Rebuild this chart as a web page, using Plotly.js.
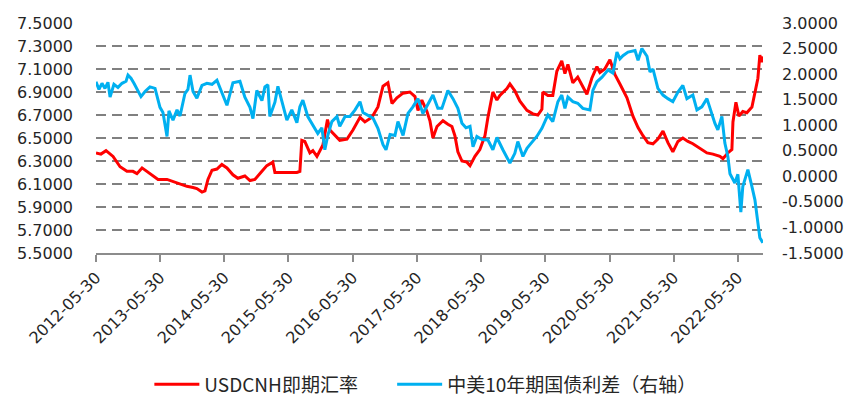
<!DOCTYPE html>
<html>
<head>
<meta charset="utf-8">
<script src="https://cdn.plot.ly/plotly-3.0.1.min.js"></script>
<style>
  html, body { margin: 0; padding: 0; background: #fff; }
  #chart { width: 865px; height: 417px; }
</style>
</head>
<body>
<div id="chart"></div>
<script>
// USDCNH spot (left axis)
var cnhDates = [
  '2012-05-30','2012-06-27','2012-07-26','2012-09-04','2012-10-14','2012-11-22','2012-12-26',
  '2013-01-18','2013-02-16','2013-04-02','2013-05-18','2013-07-08','2013-09-03','2013-10-29',
  '2013-12-03','2013-12-25','2014-01-23','2014-02-09','2014-02-26','2014-03-21','2014-04-18',
  '2014-05-16','2014-06-14','2014-07-18','2014-08-15','2014-09-24','2014-10-23','2014-11-20',
  '2014-12-30','2015-01-27','2015-03-02','2015-03-14','2015-04-28','2015-06-07','2015-07-17',
  '2015-08-03','2015-08-14','2015-08-31','2015-09-29','2015-10-16','2015-11-08','2015-12-12',
  '2016-01-07','2016-01-21','2016-02-07','2016-03-17','2016-04-27','2016-05-31','2016-07-10',
  '2016-08-07','2016-09-16','2016-10-20','2016-11-18','2016-12-16','2017-01-08','2017-02-05',
  '2017-03-12','2017-04-20','2017-05-19','2017-06-05','2017-06-27','2017-07-26','2017-08-12',
  '2017-08-29','2017-09-21','2017-10-25','2017-11-22','2017-12-15','2018-01-01','2018-01-18',
  '2018-02-10','2018-03-10','2018-03-28','2018-04-25','2018-05-23','2018-06-21','2018-07-08',
  '2018-08-05','2018-08-28','2018-09-14','2018-10-24','2018-11-10','2018-12-08','2019-01-06',
  '2019-02-15','2019-03-21','2019-04-18','2019-05-11','2019-05-16','2019-06-14','2019-07-12',
  '2019-08-04','2019-09-01','2019-09-19','2019-10-06','2019-11-03','2019-12-01','2019-12-24',
  '2020-01-22','2020-02-19','2020-03-19','2020-04-05','2020-05-03','2020-06-01','2020-06-30',
  '2020-07-28','2020-09-06','2020-10-10','2020-11-08','2020-12-06','2021-01-03','2021-02-01',
  '2021-03-01','2021-03-30','2021-04-27','2021-05-25','2021-06-23','2021-07-21','2021-08-19',
  '2021-09-16','2021-10-26','2021-12-05','2022-01-08','2022-02-17','2022-03-06','2022-04-03',
  '2022-04-26','2022-05-02','2022-05-19','2022-06-05','2022-06-27','2022-07-20','2022-08-18',
  '2022-09-04','2022-09-21','2022-10-02','2022-10-12','2022-10-19'
];
var cnhValues = [
  6.37,6.36,6.39,6.34,6.25,6.21,6.21,
  6.19,6.24,6.19,6.14,6.14,6.11,6.08,
  6.07,6.06,6.03,6.04,6.14,6.22,6.23,
  6.27,6.24,6.18,6.15,6.17,6.13,6.14,
  6.21,6.26,6.29,6.20,6.20,6.20,6.20,
  6.21,6.48,6.47,6.37,6.39,6.34,6.44,
  6.66,6.57,6.54,6.48,6.49,6.57,6.68,
  6.64,6.68,6.77,6.95,6.98,6.80,6.85,
  6.89,6.90,6.86,6.74,6.83,6.73,6.65,
  6.50,6.60,6.65,6.62,6.60,6.52,6.38,
  6.30,6.29,6.26,6.34,6.40,6.52,6.68,
  6.90,6.83,6.87,6.93,6.97,6.91,6.82,
  6.74,6.71,6.70,6.75,6.90,6.87,6.87,
  7.08,7.17,7.06,7.14,6.98,7.03,6.96,
  6.88,7.02,7.12,7.07,7.10,7.18,7.05,
  6.97,6.85,6.69,6.59,6.52,6.46,6.45,
  6.49,6.56,6.46,6.38,6.47,6.50,6.47,
  6.45,6.41,6.37,6.36,6.34,6.32,6.37,
  6.40,6.64,6.81,6.69,6.73,6.72,6.77,
  6.91,7.02,7.22,7.16,7.21
];

// China-US 10Y yield spread (right axis)
var spreadDates = [
  '2012-05-30','2012-06-16','2012-07-03','2012-07-20','2012-08-06','2012-08-18','2012-09-09',
  '2012-10-02','2012-10-25','2012-11-17','2012-11-28','2012-12-15','2013-01-01','2013-01-18',
  '2013-02-10','2013-03-05','2013-04-02','2013-05-01','2013-05-12','2013-05-29','2013-06-15',
  '2013-07-08','2013-07-19','2013-08-11','2013-09-03','2013-09-20','2013-10-18','2013-11-04',
  '2013-11-16','2013-12-03','2013-12-25','2014-01-23','2014-02-20','2014-03-21','2014-04-18',
  '2014-05-16','2014-06-14','2014-07-18','2014-08-27','2014-09-24','2014-10-23','2014-11-09',
  '2014-12-01','2014-12-30','2015-01-16','2015-02-02','2015-02-13','2015-03-14','2015-03-31',
  '2015-04-28','2015-05-21','2015-06-18','2015-07-17','2015-08-03','2015-08-20','2015-09-17',
  '2015-10-16','2015-11-13','2015-12-06','2015-12-23','2016-01-09','2016-02-01','2016-03-01',
  '2016-03-17','2016-04-16','2016-05-14','2016-06-12','2016-07-10','2016-07-27','2016-08-24',
  '2016-09-22','2016-10-20','2016-11-18','2016-12-05','2016-12-28','2017-01-25','2017-02-11',
  '2017-03-12','2017-04-09','2017-05-07','2017-06-05','2017-07-03','2017-08-01','2017-08-29',
  '2017-09-26','2017-10-19','2017-11-22','2017-12-21','2018-01-18','2018-02-10','2018-03-05',
  '2018-03-28','2018-04-14','2018-05-06','2018-06-04','2018-07-08','2018-08-05','2018-08-28',
  '2018-10-01','2018-11-10','2018-12-08','2018-12-25','2019-01-23','2019-02-15','2019-03-04',
  '2019-04-12','2019-05-11','2019-06-14','2019-07-12','2019-08-10','2019-09-01','2019-09-19',
  '2019-10-06','2019-11-03','2019-12-01','2019-12-30','2020-02-08','2020-02-25','2020-03-19',
  '2020-04-17','2020-05-21','2020-06-18','2020-07-11','2020-07-28','2020-08-14','2020-09-12',
  '2020-10-22','2020-11-08','2020-11-30','2020-12-29','2021-01-15','2021-02-01','2021-03-01',
  '2021-03-30','2021-04-27','2021-05-25','2021-06-23','2021-07-21','2021-08-13','2021-09-16',
  '2021-10-09','2021-11-06','2021-12-05','2021-12-22','2022-01-19','2022-02-05','2022-02-28',
  '2022-03-17','2022-04-03','2022-04-15','2022-05-13','2022-05-30','2022-06-16','2022-06-27',
  '2022-07-26','2022-08-18','2022-09-04','2022-09-21','2022-10-02','2022-10-19'
];
var spreadValues = [
  1.85,1.70,1.82,1.72,1.84,1.55,1.80,
  1.74,1.82,1.86,1.98,1.92,1.82,1.72,
  1.56,1.66,1.75,1.72,1.58,1.35,1.25,
  0.78,1.28,1.10,1.30,1.18,1.62,1.70,
  1.98,1.66,1.53,1.78,1.82,1.80,1.88,
  1.65,1.39,1.83,1.86,1.55,1.35,1.13,
  1.68,1.48,1.75,1.79,1.17,1.45,1.76,
  1.40,1.10,1.30,1.05,1.36,1.49,1.17,
  1.00,0.84,0.95,0.52,0.80,1.07,1.17,
  0.98,1.17,1.17,1.30,1.46,1.25,1.20,
  1.14,0.94,0.62,0.52,0.82,0.80,1.07,
  0.80,1.23,1.36,1.52,1.23,1.40,1.59,
  1.33,1.33,1.68,1.52,1.33,1.04,0.95,
  0.98,0.58,0.78,0.72,0.71,0.52,0.76,
  0.52,0.26,0.45,0.68,0.39,0.55,0.62,
  0.78,0.94,1.20,1.07,1.46,1.59,1.33,
  1.55,1.46,1.43,1.33,1.30,1.68,1.85,
  1.94,2.08,2.02,2.43,2.30,2.36,2.43,
  2.46,2.27,2.50,2.35,2.04,2.10,1.72,
  1.59,1.52,1.46,1.65,1.78,1.52,1.59,
  1.30,1.36,1.52,1.33,1.04,0.91,1.17,
  0.65,0.39,0.05,-0.13,0.04,-0.70,-0.20,
  0.13,-0.20,-0.46,-0.91,-1.20,-1.30
];

var xTicks = ['2012-05-30','2013-05-30','2014-05-30','2015-05-30','2016-05-30','2017-05-30',
  '2018-05-30','2019-05-30','2020-05-30','2021-05-30','2022-05-30'];
var leftTicks = [5.5,5.7,5.9,6.1,6.3,6.5,6.7,6.9,7.1,7.3,7.5];
var leftLabels = ['5.5000','5.7000','5.9000','6.1000','6.3000','6.5000','6.7000','6.9000','7.1000','7.3000','7.5000'];
var rightTicks = [-1.5,-1.0,-0.5,0,0.5,1.0,1.5,2.0,2.5,3.0];
var rightLabels = ['-1.5000','-1.0000','-0.5000','0.0000','0.5000','1.0000','1.5000','2.0000','2.5000','3.0000'];

var tickFont = {family: 'DejaVu Sans, sans-serif', size: 16, color: '#262626'};
var legendFont = {family: 'Noto Sans CJK SC, sans-serif', size: 19, color: '#262626'};

var trace1 = {
  x: cnhDates,
  y: cnhValues,
  name: 'USDCNH即期汇率',
  type: 'scatter',
  mode: 'lines',
  legend: 'legend',
  line: {color: '#FF0000', width: 3}
};

var trace2 = {
  x: spreadDates,
  y: spreadValues,
  name: '中美10年期国债利差（右轴）',
  type: 'scatter',
  mode: 'lines',
  yaxis: 'y2',
  legend: 'legend2',
  line: {color: '#00B0F0', width: 3}
};

var layout = {
  width: 865,
  height: 417,
  margin: {l: 96, r: 102, t: 23, b: 164},
  paper_bgcolor: '#ffffff',
  plot_bgcolor: '#ffffff',
  showlegend: true,
  hovermode: false,
  xaxis: {
    type: 'date',
    range: ['2012-05-30', '2022-10-20'],
    tickvals: xTicks,
    ticktext: xTicks,
    tickangle: -45,
    tickfont: tickFont,
    showgrid: false,
    zeroline: false,
    showline: true,
    linecolor: '#8c8c8c',
    linewidth: 2,
    ticks: 'outside',
    ticklen: 7,
    tickwidth: 2,
    tickcolor: '#8c8c8c'
  },
  yaxis: {
    range: [5.5, 7.5],
    tickvals: leftTicks,
    ticktext: leftLabels,
    tickfont: tickFont,
    showgrid: true,
    gridcolor: '#808080',
    gridwidth: 2,
    griddash: '10px,6px',
    zeroline: false,
    showline: false,
    ticks: '',
    ticklabelstandoff: 22
  },
  yaxis2: {
    range: [-1.5, 3.0],
    overlaying: 'y',
    side: 'right',
    tickvals: rightTicks,
    ticktext: rightLabels,
    tickfont: tickFont,
    showgrid: false,
    zeroline: false,
    showline: false,
    ticks: '',
    ticklabelstandoff: 18
  },
  legend: {
    orientation: 'h',
    x: 0.08,
    xanchor: 'left',
    y: -0.571,
    yanchor: 'middle',
    font: legendFont,
    itemwidth: 45,
    bgcolor: 'rgba(0,0,0,0)'
  },
  legend2: {
    orientation: 'h',
    x: 0.444,
    xanchor: 'left',
    y: -0.571,
    yanchor: 'middle',
    font: legendFont,
    itemwidth: 45,
    bgcolor: 'rgba(0,0,0,0)'
  }
};

Plotly.newPlot('chart', [trace1, trace2], layout, {displayModeBar: false, staticPlot: true});
</script>
</body>
</html>
